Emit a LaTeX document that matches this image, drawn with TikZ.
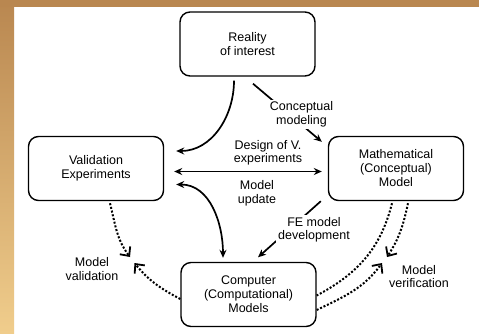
\documentclass[tikz,border=0pt]{standalone}
\usepackage{fontspec}
\setmainfont{Liberation Sans}
\usetikzlibrary{arrows.meta, calc}

\definecolor{frametop}{RGB}{185,135,80}
\definecolor{framebot}{RGB}{240,205,140}

\begin{document}
\begin{tikzpicture}[x=1pt, y=-1pt,
    block/.style={rectangle, draw, rounded corners=10pt, line width=1.4pt, minimum width=135pt, minimum height=64pt, align=center, font=\fontsize{12.5}{14}\selectfont},
    lbl/.style={align=center, inner sep=2pt, font=\fontsize{12.5}{13.5}\selectfont},
    arrow/.style={-{Stealth[length=8pt,width=7pt]}, line width=1.7pt},
    twoway/.style={{Stealth[length=8pt,width=7pt]}-{Stealth[length=8pt,width=7pt]}, line width=1.7pt},
    dots/.style={line width=2pt, dash pattern=on 2pt off 1.8pt},
    barb/.style={dots, -{Straight Barb[length=7pt,width=13pt,line width=1.8pt]}}
]
\useasboundingbox (0,0) rectangle (479,333);

% Frame
\fill[white] (0,0) rectangle (479,333);
\shade[top color=frametop, bottom color=framebot] (0,0) rectangle (14,333);
\fill[frametop] (0,0) rectangle (479,7);

% Boxes
\node[block] (reality) at (247.5,44) {Reality\\of interest};
\node[block] (valid) at (96,168.5) {Validation\\Experiments};
\node[block] (math) at (396,168.5) {Mathematical\\(Conceptual)\\Model};
\node[block] (comp) at (248.5,294.5) {Computer\\(Computational)\\Models};

% Solid connectors
\draw[arrow] ($(reality.south)+(-13.5,4)$) to[out=-90, in=0] ($(valid.east)+(12,-17.5)$);
\draw[arrow] ($(reality.south)+(5.5,7)$) -- ($(math.north west)+(-6,6)$);
\draw[twoway] ($(valid.east)+(10,3)$) -- ($(math.west)+(-6,3)$);
\draw[twoway] ($(valid.east)+(12,16)$) to[out=0, in=90] ($(comp.north)+(-25.5,-4)$);
\draw[arrow] ($(math.south west)+(-7,0)$) -- ($(comp.north)+(9.5,-4.5)$);

% Dotted connectors
\coordinate (valtip) at (130,257);
\coordinate (comptip) at (134.5,263);
\draw[barb] ($(valid.south)+(14,2)$) to[out=-76, in=127] (valtip);
\draw[barb] ($(comp.west)+(0,4.5)$) to[out=152, in=-51] (comptip);

\coordinate (vertop) at (387,257);
\coordinate (verbot) at (382,263);
\draw[dots] ($(math.south)+(-4,2)$) to[out=-104, in=28] ($(comp.east)+(0,1)$);
\draw[barb] ($(math.south)+(12,2)$) to[out=-102, in=57] (vertop);
\draw[barb] ($(comp.east)+(0,15.5)$) to[out=26, in=-126] (verbot);

% Labels
\node[lbl, fill=white] (concept) at (301.5,114.5) {Conceptual\\modeling};
\node[lbl] (design) at (268,153) {Design of V.\\experiments};
\node[lbl] (update) at (257,193.5) {Model\\update};
\node[lbl, fill=white] (fedev) at (314,230) {FE model\\development};
\node[lbl] (validation) at (92,269) {Model\\validation};
\node[lbl] (verification) at (419,276.5) {Model\\verification};

\end{tikzpicture}
\end{document}
